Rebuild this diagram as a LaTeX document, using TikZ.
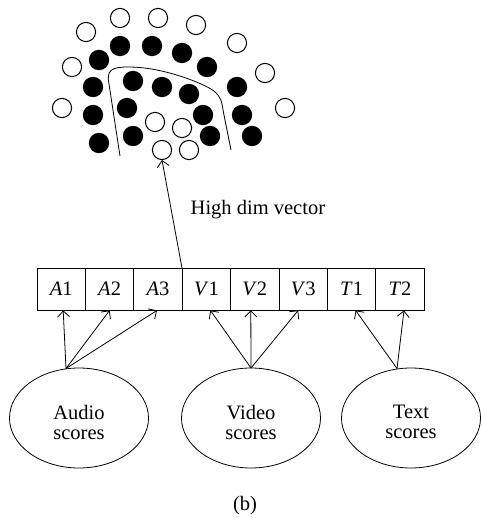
\documentclass[tikz,border=0pt]{standalone}
\usepackage{fontspec}
\setmainfont{Liberation Serif}
\usetikzlibrary{shapes.geometric,arrows.meta}
\begin{document}
\begin{tikzpicture}[x=1pt,y=-1pt,
  line width=0.8pt,
  every node/.style={font=\fontsize{20.5}{22}\selectfont},
  cell/.style={draw, minimum width=48.4pt, minimum height=42pt, inner sep=0pt},
  score/.style={draw, ellipse, minimum width=139pt, minimum height=100pt, inner sep=0pt},
  scoretext/.style={align=center, inner sep=0pt},
  link/.style={-{Straight Barb[length=6pt,width=12pt]}},
  dotw/.style={draw, line width=1pt, fill=white},
  dotb/.style={fill=black}]
\useasboundingbox (0,0) rectangle (481,518);

% cluster of feature points
\foreach \x/\y in {120/18,158/18,196/25,86/32,237/43,72/67,265/73,62/108,285/108,155/122,182/128,189/150}
  \draw[dotw] (\x,\y) circle (9.6);
\foreach \x/\y in {120/46,152/46,182/53,99/60,207/67,93/87,133/81,162/87,189/94,237/87,
                   93/115,127/108,203/115,242/115,99/143,133/136,210/136,252/136}
  \fill[dotb] (\x,\y) circle (10.2);
\node[circle, draw, line width=1pt, minimum size=19.2pt, inner sep=0pt] (hit) at (162,150) {};

% class boundary
\draw (120,156) -- (109,84) .. controls (106,70) and (112,67) .. (128,67)
      .. controls (160,67) and (195,80) .. (211,89)
      .. controls (219,94) and (222,100) .. (223,110) -- (231,150);

% high dimensional vector
\foreach \l/\d [count=\i from 0] in {A/1,A/2,A/3,V/1,V/2,V/3,T/1,T/2}{
  \pgfmathsetmacro\cx{37+48.4*(\i+0.5)}
  \node[cell] (c\i) at (\cx,289) {\textit{\l}\d};
}
\node[anchor=west] (lbl) at (187,210) {High dim vector};
\coordinate (vtop) at (182,268);
\draw[link] (vtop) -- (hit.south);

% score sources
\node[score] (aud) at (79,418) {};
\node[score] (vid) at (251,418) {};
\node[score] (txt) at (411,418) {};
\node[scoretext] (audl) at ([yshift=-4pt]aud.center) {Audio\\[-2pt]scores};
\node[scoretext] (vidl) at ([yshift=-4pt]vid.center) {Video\\[-2pt]scores};
\node[scoretext] (txtl) at ([yshift=-4pt]txt.center) {Text\\[-2pt]scores};
\coordinate (as) at (66,368.5);
\coordinate (vs) at (251,368);
\coordinate (ts) at (397,368.5);

\draw[link] (as) -- ([xshift=2pt]c0.south);
\draw[link] (as) -- ([xshift=0pt]c1.south);
\draw[link] (as) -- ([xshift=-1pt]c2.south);
\draw[link] (vs) -- ([xshift=4pt]c3.south);
\draw[link] (vs) -- ([xshift=-4pt]c4.south);
\draw[link] (vs) -- ([xshift=-5pt]c5.south);
\draw[link] (ts) -- ([xshift=4pt]c6.south);
\draw[link] (ts) -- ([xshift=4pt]c7.south);

\node (cap) at (245,506) {(b)};
\end{tikzpicture}
\end{document}
